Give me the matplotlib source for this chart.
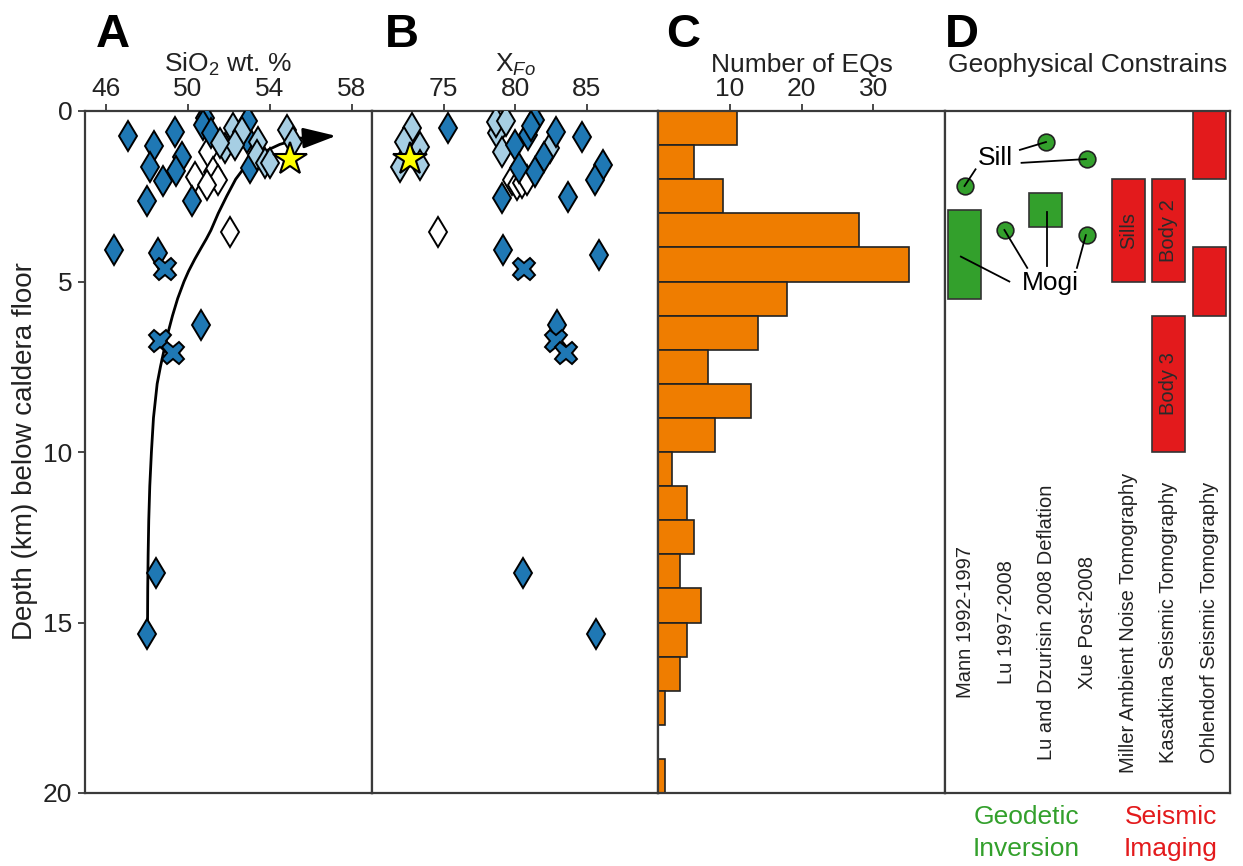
import numpy as np
import matplotlib.pyplot as plt
from matplotlib.patches import Rectangle

plt.rcParams['font.family'] = ['Liberation Sans', 'DejaVu Sans']
plt.rcParams['mathtext.fontset'] = 'custom'
plt.rcParams['mathtext.rm'] = 'Liberation Sans'
plt.rcParams['mathtext.it'] = 'Liberation Sans:italic'

# ---- Panel A: SiO2 (wt. %) vs depth (km) ----
a_dark_sio2 = [47.09, 48.37, 49.38, 50.85, 50.77, 51.17, 49.74, 48.15, 49.46, 48.81,
               48.02, 50.24, 52.89, 52.97, 53.05, 46.41, 48.56, 50.65, 48.48, 48.04]
a_dark_depth = [0.73, 1.02, 0.61, 0.20, 0.42, 0.65, 1.34, 1.63, 1.75, 2.04,
                2.63, 2.64, 0.80, 0.29, 1.68, 4.08, 4.17, 6.28, 13.56, 15.34]
a_light_sio2 = [52.23, 52.64, 54.85, 51.82, 52.32, 53.46, 53.38, 53.79, 54.00, 55.17, 51.58]
a_light_depth = [0.51, 0.61, 0.56, 1.09, 1.00, 0.90, 1.29, 1.53, 1.53, 0.90, 0.95]
a_white_sio2 = [50.99, 50.36, 51.26, 51.50, 50.93, 52.07]
a_white_depth = [1.19, 1.93, 1.78, 2.02, 2.17, 3.54]
a_cross_sio2 = [48.89, 48.64, 49.30]
a_cross_depth = [4.64, 6.74, 7.09]
a_star = (55.01, 1.42)

# fractionation trend
curve_sio2 = [48.05, 48.06, 48.08, 48.11, 48.16, 48.24, 48.34, 48.52, 48.68, 48.86,
              49.05, 49.27, 49.52, 49.83, 50.05, 50.35, 50.68, 50.92, 51.14, 51.50,
              51.91, 52.35, 52.97, 53.50, 54.00, 54.50, 55.50]
curve_depth = [15.10, 14.00, 13.00, 12.00, 11.00, 10.00, 9.00, 8.00, 7.50, 7.00,
               6.50, 6.00, 5.50, 5.00, 4.70, 4.35, 4.00, 3.75, 3.50, 3.00,
               2.50, 2.00, 1.50, 1.29, 1.12, 0.98, 0.80]
arrow_tip = (57.25, 0.73)

# ---- Panel B: X_Fo vs depth ----
b_dark_xfo = [75.28, 81.40, 80.93, 81.10, 82.86, 84.66, 80.00, 82.03, 80.30, 81.40,
              86.12, 85.59, 79.07, 83.72, 79.19, 85.88, 82.95, 80.58, 85.66]
b_dark_depth = [0.51, 0.26, 0.70, 0.45, 0.61, 0.75, 1.00, 1.34, 1.68, 1.78,
                1.58, 2.02, 2.56, 2.51, 4.08, 4.23, 6.28, 13.56, 15.34]
b_light_xfo = [72.80, 72.21, 73.37, 71.98, 73.37, 78.72, 79.07, 82.45, 78.68, 79.40]
b_light_depth = [0.51, 0.90, 1.05, 1.63, 1.58, 0.65, 1.19, 1.09, 0.31, 0.30]
b_white_xfo = [79.77, 80.12, 80.47, 80.82, 74.65]
b_white_depth = [2.02, 2.17, 2.12, 2.02, 3.56]
b_cross_xfo = [80.63, 82.90, 83.56]
b_cross_depth = [4.64, 6.74, 7.09]
b_star = (72.63, 1.42)

# ---- Panel C: earthquakes per 1 km depth bin ----
eq_bin_top = np.arange(0, 20)
eq_counts = [11, 5, 9, 28, 35, 18, 14, 7, 13, 8, 2, 4, 5, 3, 6, 4, 3, 1, 0, 1]

# ---- Panel D: geophysical constraints ----
d_columns = ['Mann 1992-1997', 'Lu 1997-2008', 'Lu and Dzurisin 2008 Deflation',
             'Xue Post-2008', 'Miller Ambient Noise Tomography',
             'Kasatkina Seismic Tomography', 'Ohlendorf Seismic Tomography']
geo_box_col = [0, 2]
geo_box_top = [2.9, 2.4]
geo_box_bot = [5.5, 3.4]
sill_col = [0, 2, 3]
sill_depth = [2.2, 0.9, 1.41]
mogi_col = [1, 3]
mogi_depth = [3.49, 3.64]
seis_col = [4, 5, 5, 6, 6]
seis_top = [2.0, 2.0, 6.0, 0.0, 4.0]
seis_bot = [5.0, 5.0, 10.0, 2.0, 6.0]
seis_label = ['Sills', 'Body 2', 'Body 3', '', '']

DARK = '#1f78b4'
LIGHT = '#a6cee3'
ORANGE = '#ef7d00'
GREEN = '#33a02c'
RED = '#e31a1c'
SPINE = '#3a3a3a'
TXT = '#222222'

W, H = 1243, 866
fig = plt.figure(figsize=(W / 100, H / 100), dpi=100)


def px_axes(x0, x1, y0=111, y1=793):
    return fig.add_axes([x0 / W, 1 - y1 / H, (x1 - x0) / W, (y1 - y0) / H])


axA = px_axes(85, 372)
axB = px_axes(372, 658)
axC = px_axes(658, 945)
axD = px_axes(945, 1230)

for ax in (axA, axB, axC, axD):
    ax.set_ylim(20, 0)
    for s in ax.spines.values():
        s.set_color(SPINE)
        s.set_linewidth(1.6)
    ax.xaxis.tick_top()
    ax.tick_params(axis='x', length=5, width=1.3, color=SPINE, labelsize=19,
                   pad=2, labelcolor=TXT)
    ax.tick_params(axis='y', left=False, labelleft=False)

axA.tick_params(axis='y', left=True, labelleft=True, length=5, width=1.3,
                color=SPINE, labelsize=19, pad=4, labelcolor=TXT)
axA.set_yticks([0, 5, 10, 15, 20])

dmk = dict(ls='none', marker='d', ms=15, mec='black', mew=1.4)
xmk = dict(ls='none', marker='X', ms=16, mec='black', mew=1.4, mfc=DARK)
smk = dict(ls='none', marker='*', ms=25, mec='black', mew=1.5, mfc='#ffff00')

# A
axA.plot(curve_sio2, curve_depth, color='black', lw=2, zorder=2)
axA.annotate('', xy=arrow_tip, xytext=(curve_sio2[-1], curve_depth[-1]),
             arrowprops=dict(arrowstyle='-|>,head_length=1.45,head_width=0.45',
                             mutation_scale=14, color='black', lw=2,
                             shrinkA=0, shrinkB=0), zorder=2)
axA.plot(a_white_sio2, a_white_depth, mfc='white', zorder=3, **dmk)
axA.plot(a_dark_sio2, a_dark_depth, mfc=DARK, zorder=4, **dmk)
axA.plot(a_light_sio2, a_light_depth, mfc=LIGHT, zorder=5, **dmk)
axA.plot(a_cross_sio2, a_cross_depth, zorder=5, **xmk)
axA.plot(*a_star, zorder=6, **smk)
axA.set_xlim(45, 59)
axA.set_xticks([46, 50, 54, 58])

# B
axB.plot(b_white_xfo, b_white_depth, mfc='white', zorder=3, **dmk)
axB.plot(b_light_xfo, b_light_depth, mfc=LIGHT, zorder=4, **dmk)
axB.plot(b_dark_xfo, b_dark_depth, mfc=DARK, zorder=5, **dmk)
axB.plot(b_cross_xfo, b_cross_depth, zorder=5, **xmk)
axB.plot(*b_star, zorder=6, **smk)
axB.set_xlim(70, 90)
axB.set_xticks([75, 80, 85])

# C
axC.barh(eq_bin_top + 0.5, eq_counts, height=1.0, color=ORANGE,
         edgecolor='#222222', linewidth=1.2)
axC.set_xlim(0, 40)
axC.set_xticks([10, 20, 30])

# D
axD.set_xlim(0, 7)
axD.set_xticks([])
bw = 0.81
for c, t, b in zip(geo_box_col, geo_box_top, geo_box_bot):
    axD.add_patch(Rectangle((c + 0.48 - bw / 2, t), bw, b - t, facecolor=GREEN,
                            edgecolor='#333333', lw=1.2, zorder=2))
for c, t, b, lab in zip(seis_col, seis_top, seis_bot, seis_label):
    axD.add_patch(Rectangle((c + 0.5 - bw / 2, t), bw, b - t, facecolor=RED,
                            edgecolor='#333333', lw=1.2, zorder=2))
    if lab:
        axD.text(c + 0.5, (t + b) / 2, lab, rotation=90, ha='center', va='center',
                 fontsize=14.5, color='#2a2a2a', zorder=3)
circ = dict(ls='none', marker='o', ms=12, mfc=GREEN, mec='#222222', mew=1.2, zorder=3)
axD.plot(np.array(sill_col) + 0.48, sill_depth, **circ)
axD.plot(np.array(mogi_col) + 0.48, mogi_depth, **circ)

axD.text(1.23, 1.38, 'Sill', ha='center', va='center', fontsize=19)
axD.text(2.58, 5.05, 'Mogi', ha='center', va='center', fontsize=19)
leaders = [((1.84, 1.14), (2.48, 0.91)), ((1.88, 1.52), (3.46, 1.41)),
           ((0.75, 1.71), (0.48, 2.2)),
           ((1.58, 5.0), (0.39, 4.27)), ((2.02, 4.6), (1.46, 3.49)),
           ((2.50, 4.54), (2.50, 2.96)), ((3.24, 4.6), (3.46, 3.64))]
for (x0, y0), (x1, y1) in leaders:
    axD.plot([x0, x1], [y0, y1], color='black', lw=1.3, zorder=4)

for i, name in enumerate(d_columns):
    axD.text(i + 0.5, 15.0, name, rotation=90, ha='center', va='center',
             fontsize=14.5, color=TXT)

axD.text(2.0, 20.35, 'Geodetic\nInversion', ha='center', va='top', fontsize=19,
         color=GREEN, linespacing=1.4, clip_on=False)
axD.text(5.55, 20.35, 'Seismic\nImaging', ha='center', va='top', fontsize=19,
         color=RED, linespacing=1.4, clip_on=False)

# axis titles and panel letters
titles = ['SiO$_2$ wt. %', r'X$_{\mathit{Fo}}$', 'Number of EQs', 'Geophysical Constrains']
letters = ['A', 'B', 'C', 'D']
letter_x = [113, 402, 683, 962]
for ax, ttl, let, lx, x0 in zip((axA, axB, axC, axD), titles, letters, letter_x,
                                 (85, 372, 658, 945)):
    ax.text(0.5, 1.0572, ttl, transform=ax.transAxes, ha='center', va='baseline',
            fontsize=19, color=TXT)
    ax.text((lx - x0) / 286, 1.112, let, transform=ax.transAxes, ha='center',
            va='center', fontsize=34, fontweight='bold')

fig.text(25 / W, 1 - 451 / H, 'Depth (km) below caldera floor', rotation=90,
         ha='center', va='center', fontsize=20, color=TXT)

fig.savefig('out.png', dpi=100)
